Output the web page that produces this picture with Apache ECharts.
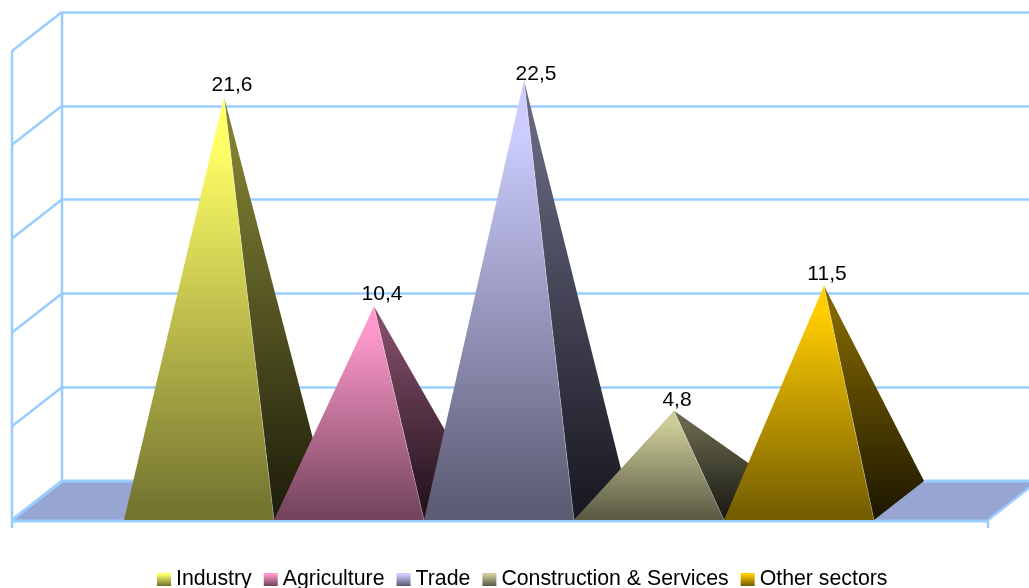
<!DOCTYPE html>
<html>
<head>
<meta charset="utf-8">
<style>
  html, body { margin: 0; padding: 0; background: #fff; }
  #chart { width: 1029px; height: 588px; }
</style>
<script src="https://cdn.jsdelivr.net/npm/echarts@6/dist/echarts.min.js"></script>
</head>
<body>
<div id="chart"></div>
<script>
// Sector shares
const sectors = ['Industry', 'Agriculture', 'Trade', 'Construction & Services', 'Other sectors'];
const shares = [21.6, 10.4, 22.5, 4.8, 11.5];

// Face shading for each pyramid: [apex, base]
const frontShades = [
  ['#FFFF66', '#757531'],
  ['#FF99CC', '#75455D'],
  ['#CCCCFF', '#5C5C74'],
  ['#CCCC99', '#5C5C46'],
  ['#FFCC00', '#755E00']
];
const sideShades = [
  ['#7F7F33', '#1F1F0D'],
  ['#7F4C66', '#1F1019'],
  ['#66667F', '#191922'],
  ['#66664C', '#191913'],
  ['#7F6600', '#1F1800']
];

// Label placement relative to each apex
const labelShiftX = [8, 8, 12, 3, 3];
const labelShiftY = [12, 12, 6, 11, 11];

const axisTicks = [0, 5, 10, 15, 20, 25];
const axisMax = 25;

// Oblique projection of the chart depth, in pixels
const DEPTH_X = 50;
const DEPTH_Y = 39;
const WALL = '#99CCFF';
const FLOOR = '#97A5D2';
const FONT = '"Liberation Sans", Arial, sans-serif';

// Shading holds the apex colour briefly before falling off towards the base
const vGrad = (stops) => new echarts.graphic.LinearGradient(0, 0, 0, 1, [
  { offset: 0, color: stops[0] },
  { offset: 0.12, color: stops[0] },
  { offset: 0.97, color: stops[1] },
  { offset: 1, color: stops[1] }
]);

// Floor and left side wall, hung off the back wall's axes
function renderFrame(params, api) {
  const line = (x1, y1, x2, y2, width) => ({
    type: 'line',
    shape: { x1, y1, x2, y2 },
    style: { stroke: WALL, lineWidth: width || 2.5 }
  });
  const [backL, backB] = api.coord([0, 0]);
  const [backR, backT] = api.coord([1, axisMax]);
  const frontL = backL - DEPTH_X;
  const frontR = backR - DEPTH_X;
  const frontB = backB + DEPTH_Y;

  const children = [
    {
      type: 'polygon',
      shape: { points: [[frontL, frontB], [frontR, frontB], [backR, backB], [backL, backB]] },
      style: { fill: FLOOR }
    },
    line(backL, backT, backL, backB),
    line(backL, backB, backR, backB, 3),
    line(frontL, frontB + 1, frontR, frontB + 1, 3),
    line(frontL, backT + DEPTH_Y, frontL, frontB + 8),
    line(frontR, frontB, frontR, frontB + 8),
    line(frontR, frontB, backR, backB)
  ];
  axisTicks.forEach((t) => {
    const y = api.coord([0, t])[1];
    children.push(line(frontL, y + DEPTH_Y, backL, y, t === 0 ? 3 : 2.5));
  });
  return { type: 'group', children };
}

// One pyramid: lit front face, shaded right face, apex at half depth
function renderPyramid(params, api) {
  const i = api.value(0);
  const value = api.value(1);
  const [cx, baseY] = api.coord([i, 0]);
  const topY = api.coord([i, value])[1];
  const half = api.size([1, 0])[0] / 2;
  const apex = [cx + DEPTH_X / 2, topY - DEPTH_Y / 2];
  const left = [cx - half, baseY];
  const right = [cx + half, baseY];
  const backRight = [cx + half + DEPTH_X, baseY - DEPTH_Y];

  return {
    type: 'group',
    children: [
      {
        type: 'polygon',
        shape: { points: [right, backRight, apex] },
        style: { fill: vGrad(sideShades[i]) }
      },
      {
        type: 'polygon',
        shape: { points: [left, right, apex] },
        style: { fill: vGrad(frontShades[i]) }
      },
      {
        // pale seam along the ridge between the two faces
        type: 'line',
        shape: { x1: right[0], y1: right[1], x2: apex[0], y2: apex[1] },
        style: { stroke: 'rgba(255,255,255,0.35)', lineWidth: 0.8 }
      },
      {
        type: 'text',
        style: {
          x: apex[0] + labelShiftX[i],
          y: apex[1] - labelShiftY[i],
          text: String(value).replace('.', ','),
          fill: '#000',
          font: '21px ' + FONT,
          align: 'center',
          verticalAlign: 'middle'
        }
      }
    ]
  };
}

const series = [
  {
    name: 'frame',
    type: 'custom',
    xAxisIndex: 0,
    yAxisIndex: 0,
    silent: true,
    z: 1,
    data: [[0, 0]],
    renderItem: renderFrame
  }
].concat(sectors.map((name, i) => ({
  name,
  type: 'custom',
  xAxisIndex: 1,
  yAxisIndex: 1,
  z: 2 + i,
  itemStyle: { color: vGrad(frontShades[i]) },
  encode: { x: 0, y: 1 },
  data: [[i, shares[i]]],
  renderItem: renderPyramid
})));

const chart = echarts.init(document.getElementById('chart'), null, { renderer: 'canvas' });
chart.setOption({
  animation: false,
  backgroundColor: '#fff',
  grid: [
    // back wall
    { left: 62, top: 12, width: 976, height: 469, outerBoundsMode: 'none' },
    // front plane holding the pyramids
    { left: 124, top: 53, width: 750, height: 467, outerBoundsMode: 'none' }
  ],
  xAxis: [
    { gridIndex: 0, type: 'value', min: 0, max: 1, show: false },
    { gridIndex: 1, type: 'category', data: sectors, show: false }
  ],
  yAxis: [
    {
      gridIndex: 0,
      type: 'value',
      min: 0,
      max: axisMax,
      interval: 5,
      axisLine: { show: false },
      axisTick: { show: false },
      axisLabel: { show: false },
      splitLine: { show: true, lineStyle: { color: WALL, width: 2.5 } }
    },
    { gridIndex: 1, type: 'value', min: 0, max: axisMax, show: false, splitLine: { show: false } }
  ],
  legend: {
    data: sectors,
    left: 157,
    top: 569,
    padding: 0,
    icon: 'rect',
    itemWidth: 14,
    itemHeight: 13,
    itemGap: 12,
    textStyle: { color: '#000', fontFamily: FONT, fontSize: 21.3 },
    selectedMode: false
  },
  series
});
</script>
</body>
</html>
